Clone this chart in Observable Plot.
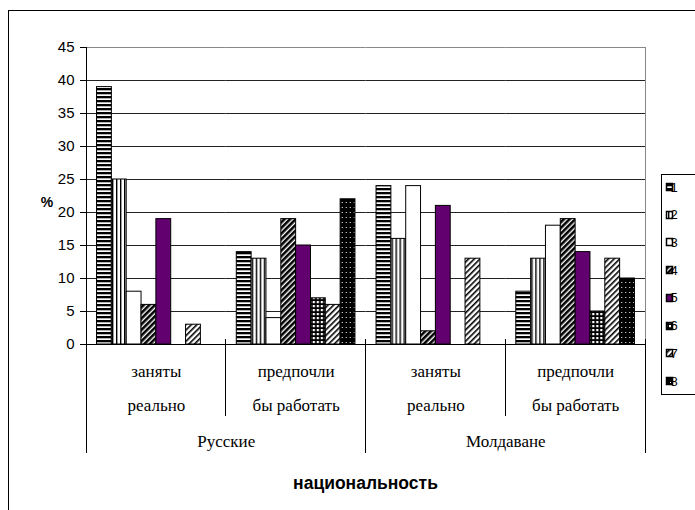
<!DOCTYPE html>
<html><head><meta charset="utf-8">
<script src="https://cdn.jsdelivr.net/npm/d3@7"></script>
<script src="https://cdn.jsdelivr.net/npm/@observablehq/plot@0.6"></script>
<style>
body{margin:0;background:#fff}
#chart{position:relative;width:695px;height:510px;overflow:hidden}
</style>
</head><body><div id="chart"></div>
<script>
// ---- data ----
const nationalities = ["Русские", "Молдаване"];
const statusLine1 = ["заняты", "предпочли"];
const statusLine2 = ["реально", "бы работать"];
const series = ["1", "2", "3", "4", "5", "6", "7", "8"];
const rusReal = [39, 25, 8, 6, 19, 0, 3, 0];
const rusPref = [14, 13, 4, 19, 15, 7, 6, 22];
const molReal = [24, 16, 24, 2, 21, 0, 13, 0];
const molPref = [8, 13, 18, 19, 14, 5, 13, 10];
const yTicks = [0, 5, 10, 15, 20, 25, 30, 35, 40, 45];
const yLabel = "%";
const xTitle = "национальность";

const groupValues = [rusReal, rusPref, molReal, molPref];
const groups = [];
nationalities.forEach((nat, ni) => statusLine1.forEach((s, si) => {
  groups.push({key: nat + "|" + s, nat, l1: statusLine1[si], l2: statusLine2[si], first: si === 1 ? nat : null, values: groupValues[ni * 2 + si]});
}));
const groupKeys = groups.map(g => g.key);
const rows = [];
groups.forEach(g => g.values.forEach((v, i) => rows.push({group: g.key, series: series[i], value: v, pat: "url(#p" + series[i] + ")"})));

const serif = "Liberation Serif, Times New Roman, serif";
const sans = "Liberation Sans, Arial, sans-serif";

const plot = Plot.plot({
  width: 695, height: 510,
  marginLeft: 86, marginRight: 50, marginTop: 47, marginBottom: 166,
  style: {fontFamily: sans, fontSize: "15px", color: "#000", background: "transparent", overflow: "visible"},
  fx: {domain: groupKeys, padding: 0, round: false, axis: null},
  x: {domain: series, paddingInner: 0, paddingOuter: 0.71, round: false, axis: null},
  y: {domain: [0, 45], ticks: yTicks, tickSize: 6, tickPadding: 6, label: null},
  color: {type: "identity"},
  marks: [
    Plot.ruleY(yTicks.filter(v => v > 0 && v < 45), {stroke: "#222", strokeWidth: 1}),
    Plot.ruleY([45], {stroke: "#888"}),
    Plot.barY(rows.filter(d => d.value > 0), {fx: "group", x: "series", y: "value", fill: "pat", stroke: "#000", strokeWidth: 1}),
    Plot.ruleY([0], {stroke: "#000"}),
    Plot.text(groups, {fx: "key", text: "l1", frameAnchor: "bottom", lineAnchor: "middle", dy: 27, fontFamily: serif, fontSize: 17}),
    Plot.text(groups, {fx: "key", text: "l2", frameAnchor: "bottom", lineAnchor: "middle", dy: 61, fontFamily: serif, fontSize: 17}),
    Plot.text(groups.filter(g => g.first), {fx: "key", text: "first", frameAnchor: "bottom-left", textAnchor: "middle", lineAnchor: "middle", dy: 97, fontFamily: serif, fontSize: 17})
  ]
});

const svg = d3.select(plot);
const defs = svg.insert("defs", ":first-child");
function pat(id, w, h, rot, draw) {
  const p = defs.append("pattern").attr("id", id).attr("patternUnits", "userSpaceOnUse").attr("width", w).attr("height", h);
  if (rot) p.attr("patternTransform", "rotate(" + rot + ")");
  draw(p);
}
pat("p1", 4, 4, 0, p => { p.append("rect").attr("width", 4).attr("height", 4).attr("fill", "#fff"); p.append("rect").attr("width", 4).attr("height", 2.3).attr("fill", "#000"); });
pat("p2", 4, 4, 0, p => { p.append("rect").attr("width", 4).attr("height", 4).attr("fill", "#fff"); p.append("rect").attr("width", 1.4).attr("height", 4).attr("fill", "#000"); });
pat("p3", 4, 4, 0, p => { p.append("rect").attr("width", 4).attr("height", 4).attr("fill", "#fff"); });
pat("p4", 4, 4, 45, p => { p.append("rect").attr("width", 4).attr("height", 4).attr("fill", "#fff"); p.append("rect").attr("width", 2.6).attr("height", 4).attr("fill", "#000"); });
pat("p5", 4, 4, 0, p => { p.append("rect").attr("width", 4).attr("height", 4).attr("fill", "#630070"); });
pat("p6", 4, 4, 0, p => { p.append("rect").attr("width", 4).attr("height", 4).attr("fill", "#000"); p.append("rect").attr("x", 1).attr("y", 1).attr("width", 2.2).attr("height", 2.2).attr("fill", "#fff"); });
pat("p7", 4, 4, 45, p => { p.append("rect").attr("width", 4).attr("height", 4).attr("fill", "#fff"); p.append("rect").attr("width", 1.6).attr("height", 4).attr("fill", "#000"); });
pat("p8", 4, 5, 0, p => { p.append("rect").attr("width", 4).attr("height", 5).attr("fill", "#000"); p.append("rect").attr("x", 2).attr("y", 2).attr("width", 1).attr("height", 1).attr("fill", "#fff"); });

const fx = plot.scale("fx"), y = plot.scale("y");
const bw = fx.bandwidth;
const edges = groupKeys.map(k => fx.apply(k)).concat([fx.apply(groupKeys[groupKeys.length - 1]) + bw]);
const y0 = y.apply(0), yTop = y.apply(45);
const g = svg.append("g").attr("stroke", "#000").attr("shape-rendering", "crispEdges");
// right border of plot area
g.append("line").attr("x1", edges[4]).attr("x2", edges[4]).attr("y1", yTop).attr("y2", y0).attr("stroke", "#888");
// left axis line
g.append("line").attr("x1", edges[0]).attr("x2", edges[0]).attr("y1", yTop).attr("y2", y0);
edges.forEach((x, i) => {
  const long = i % 2 === 0;
  g.append("line").attr("x1", x).attr("x2", x).attr("y1", y0 - 5).attr("y2", long ? y0 + 109 : y0 + 72);
});
// outer frame (top & left)
svg.append("rect").attr("x", 8.5).attr("y", 10.5).attr("width", 720).attr("height", 600).attr("fill", "none").attr("stroke", "#000");
// y label
svg.append("text").attr("x", 47).attr("y", 202).attr("text-anchor", "middle").attr("dy", "0.35em")
  .style("font-family", sans).style("font-weight", "bold").style("font-size", "14px").text(yLabel);
// x title
svg.append("text").attr("x", (edges[0] + edges[4]) / 2).attr("y", 483).attr("text-anchor", "middle").attr("dy", "0.35em")
  .style("font-family", sans).style("font-weight", "bold").style("font-size", "17.5px").text(xTitle);
// legend
const lg = svg.append("g");
lg.append("rect").attr("x", 661.5).attr("y", 174.5).attr("width", 40).attr("height", 220).attr("fill", "#fff").attr("stroke", "#000");
series.forEach((s, i) => {
  const cy = 187 + i * 27.7;
  lg.append("rect").attr("x", 666.5).attr("y", Math.round(cy - 4) + 0.5).attr("width", 6).attr("height", 7).attr("fill", "url(#p" + s + ")").attr("stroke", "#000").attr("stroke-width", 1.5);
  lg.append("text").attr("x", 674).attr("y", cy).attr("dy", "0.36em")
    .style("font-family", sans).style("font-size", "13px").style("fill", "#000").text(s);
});

document.getElementById("chart").appendChild(plot);
</script>
</body></html>
